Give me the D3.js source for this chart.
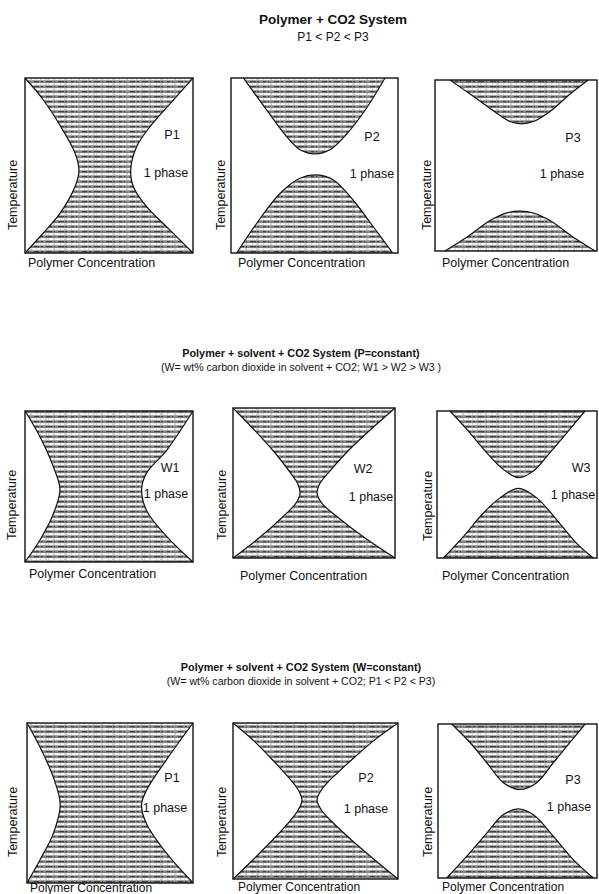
<!DOCTYPE html>
<html>
<head>
<meta charset="utf-8">
<script src="https://cdn.jsdelivr.net/npm/d3@7"></script>
<style>
  html, body { margin: 0; padding: 0; background: #fff; }
  svg { display: block; }
  text { font-family: "Liberation Sans", Arial, sans-serif; fill: #111; }
</style>
</head>
<body>
<svg id="chart" width="599" height="894"></svg>
<script>
// ---- Titles ----
const rowTitles = [
  "Polymer + CO2 System",
  "Polymer + solvent + CO2 System (P=constant)",
  "Polymer + solvent + CO2 System (W=constant)"
];
const rowSubtitles = [
  "P1 < P2 < P3",
  "(W= wt% carbon dioxide in solvent + CO2; W1 > W2 > W3 )",
  "(W= wt% carbon dioxide in solvent + CO2; P1 < P2 < P3)"
];
const panelLabels = ["P1", "P2", "P3", "W1", "W2", "W3", "P1", "P2", "P3"];
const phaseLabel = "1 phase";
const xAxisLabel = "Polymer Concentration";
const yAxisLabel = "Temperature";

// ---- Phase boundaries: [concentration, temperature], both 0..1 ----
// Row 1, P1: two-phase hourglass
const r1p1Left  = [[0,1],[0.105,0.88],[0.208,0.73],[0.298,0.57],[0.321,0.47],[0.298,0.38],[0.208,0.226],[0.105,0.11],[0,0]];
const r1p1Right = [[1,1],[0.883,0.874],[0.744,0.722],[0.665,0.608],[0.629,0.474],[0.645,0.379],[0.724,0.265],[0.863,0.131],[1,0]];
// Row 1, P2: upper (LCST) and lower (UCST) two-phase regions
const r1p2Upper = [[0.074,1],[0.214,0.817],[0.333,0.665],[0.413,0.59],[0.503,0.566],[0.593,0.59],[0.693,0.68],[0.813,0.83],[0.922,1]];
const r1p2Lower = [[0.034,0],[0.154,0.17],[0.293,0.34],[0.413,0.427],[0.513,0.446],[0.613,0.417],[0.733,0.30],[0.852,0.15],[0.968,0]];
// Row 1, P3
const r1p3Upper = [[0.093,1],[0.236,0.905],[0.38,0.807],[0.463,0.757],[0.535,0.743],[0.607,0.757],[0.71,0.816],[0.833,0.917],[0.946,1]];
const r1p3Lower = [[0.062,0],[0.196,0.08],[0.34,0.178],[0.443,0.223],[0.525,0.233],[0.607,0.222],[0.71,0.178],[0.854,0.08],[0.988,0]];
// Row 2, W1
const r2w1Left  = [[0,1],[0.089,0.83],[0.169,0.63],[0.208,0.48],[0.169,0.32],[0.089,0.146],[0,0]];
const r2w1Right = [[1,1],[0.843,0.74],[0.724,0.59],[0.694,0.48],[0.724,0.34],[0.843,0.17],[1,0]];
// Row 2, W2
const r2w2Left  = [[0,1],[0.15,0.833],[0.26,0.7],[0.355,0.567],[0.398,0.5],[0.414,0.433],[0.39,0.367],[0.30,0.267],[0.16,0.133],[0,0]];
const r2w2Right = [[1,1],[0.826,0.833],[0.698,0.7],[0.588,0.567],[0.538,0.5],[0.519,0.433],[0.547,0.367],[0.652,0.267],[0.815,0.133],[1,0]];
// Row 2, W3
const r2w3Upper = [[0.081,1],[0.185,0.877],[0.31,0.717],[0.415,0.603],[0.508,0.546],[0.602,0.591],[0.706,0.717],[0.831,0.877],[0.925,1]];
const r2w3Lower = [[0.04,0],[0.165,0.146],[0.29,0.306],[0.394,0.409],[0.508,0.473],[0.623,0.409],[0.748,0.26],[0.873,0.1],[0.977,0]];
// Row 3, P1
const r3p1Left  = [[0,1],[0.078,0.85],[0.159,0.66],[0.2,0.49],[0.159,0.31],[0.078,0.144],[0,0]];
const r3p1Right = [[1,1],[0.84,0.77],[0.72,0.58],[0.69,0.49],[0.72,0.37],[0.84,0.186],[1,0]];
// Row 3, P2
const r3p2Left  = [[0,1],[0.12,0.892],[0.24,0.763],[0.35,0.635],[0.395,0.571],[0.418,0.506],[0.395,0.442],[0.35,0.378],[0.24,0.25],[0.12,0.122],[0,0]];
const r3p2Right = [[1,1],[0.859,0.892],[0.718,0.763],[0.589,0.635],[0.536,0.571],[0.509,0.506],[0.536,0.442],[0.589,0.378],[0.718,0.25],[0.859,0.122],[1,0]];
// Row 3, P3
const r3p3Upper = [[0.086,1],[0.201,0.88],[0.306,0.75],[0.411,0.619],[0.516,0.575],[0.621,0.619],[0.726,0.75],[0.83,0.88],[0.925,1]];
const r3p3Lower = [[0.055,0],[0.18,0.14],[0.306,0.29],[0.41,0.41],[0.505,0.449],[0.6,0.41],[0.726,0.27],[0.852,0.118],[0.977,0]];

// ---- Layout ----
const titleLayout = [
  { x: 333, y: 23.5, sy: 41, ts: 13.5, ss: 12 },
  { x: 301, y: 357, sy: 370.5, ts: 10.8, ss: 10.6 },
  { x: 301, y: 671, sy: 684.5, ts: 10.8, ss: 10.6 }
];
// box: [x0, y0, x1, y1]; lab / ph: label centres; ty: Temperature centre; xl: x-label start
const panels = [
  { box: [25, 78, 193, 253],  kind: "hourglass", a: r1p1Left, b: r1p1Right, lab: [172, 135], ph: [166, 173], ty: [13, 195],  xl: [28, 263] },
  { box: [231, 78, 398, 253], kind: "split", a: r1p2Upper, b: r1p2Lower,      lab: [372, 137], ph: [372, 174], ty: [221, 195], xl: [238, 263] },
  { box: [435, 80, 597, 251], kind: "split", a: r1p3Upper, b: r1p3Lower,      lab: [573, 138], ph: [562, 174], ty: [427, 195], xl: [442, 263] },
  { box: [25, 411, 193, 562], kind: "hourglass", a: r2w1Left, b: r2w1Right,  lab: [170, 468], ph: [166, 494], ty: [12, 505],  xl: [29, 574] },
  { box: [233, 408, 395, 558], kind: "hourglass", a: r2w2Left, b: r2w2Right, lab: [363, 469], ph: [371, 497], ty: [222, 505], xl: [240, 576] },
  { box: [437, 411, 597, 558], kind: "split", a: r2w3Upper, b: r2w3Lower,     lab: [581, 468], ph: [573, 495], ty: [428, 506], xl: [442, 576] },
  { box: [27, 723, 193, 883], kind: "hourglass", a: r3p1Left, b: r3p1Right,  lab: [172, 778], ph: [165, 808], ty: [13, 822],  xl: [30, 888] },
  { box: [233, 723, 398, 879], kind: "hourglass", a: r3p2Left, b: r3p2Right, lab: [366, 778], ph: [366, 809], ty: [222, 822], xl: [238, 887] },
  { box: [438, 724, 597, 878], kind: "split", a: r3p3Upper, b: r3p3Lower,     lab: [573, 780], ph: [569, 807], ty: [428, 822], xl: [442, 887] }
];

const svg = d3.select("#chart");

// Horizontal hatching for the two-phase regions
const defs = svg.append("defs");
const pat = defs.append("pattern")
  .attr("id", "hatch")
  .attr("patternUnits", "userSpaceOnUse")
  .attr("width", 48).attr("height", 5);
pat.append("rect").attr("x", 0).attr("y", 0).attr("width", 48).attr("height", 5).attr("fill", "#fbfbfb");
pat.append("rect").attr("x", 0).attr("y", 0.3).attr("width", 48).attr("height", 2.8).attr("fill", "#858585");
pat.append("line").attr("x1", 0).attr("x2", 48).attr("y1", 1.7).attr("y2", 1.7)
  .attr("stroke", "#333").attr("stroke-width", 1)
  .attr("stroke-dasharray", "4 2 1 3 6 1 2 4 3 2 1 5 5 2 2 3");
pat.append("line").attr("x1", 0).attr("x2", 48).attr("y1", 4.1).attr("y2", 4.1)
  .attr("stroke", "#9a9a9a").attr("stroke-width", 0.7)
  .attr("stroke-dasharray", "1 4 2 5 1 3 3 4 1 6 2 4 1 3");

// Titles
titleLayout.forEach((t, i) => {
  svg.append("text").attr("x", t.x).attr("y", t.y).attr("text-anchor", "middle")
    .attr("font-weight", "bold").attr("font-size", t.ts).text(rowTitles[i]);
  svg.append("text").attr("x", t.x).attr("y", t.sy).attr("text-anchor", "middle")
    .attr("font-size", t.ss).text(rowSubtitles[i]);
});

panels.forEach((p, i) => {
  const [x0, y0, x1, y1] = p.box;
  const xs = d3.scaleLinear().domain([0, 1]).range([x0, x1]);
  const ys = d3.scaleLinear().domain([0, 1]).range([y1, y0]);
  const line = d3.line().x(d => xs(d[0])).y(d => ys(d[1])).curve(d3.curveCatmullRom.alpha(0.5));
  const g = svg.append("g");

  if (p.kind === "hourglass") {
    const rightUp = p.b.slice().reverse();
    const fillPath = line(p.a) + line(rightUp).replace(/^M/, "L") + "Z";
    g.append("path").attr("d", fillPath).attr("fill", "url(#hatch)");
  } else {
    g.append("path").attr("d", line(p.a) + "Z").attr("fill", "url(#hatch)");
    g.append("path").attr("d", line(p.b) + "Z").attr("fill", "url(#hatch)");
  }
  [p.a, p.b].forEach(curve => {
    g.append("path").attr("d", line(curve)).attr("fill", "none")
      .attr("stroke", "#111").attr("stroke-width", 1.2);
  });

  // frame
  g.append("rect").attr("x", x0).attr("y", y0).attr("width", x1 - x0).attr("height", y1 - y0)
    .attr("fill", "none").attr("stroke", "#111").attr("stroke-width", 1.4);

  g.append("text").attr("x", p.lab[0]).attr("y", p.lab[1]).attr("text-anchor", "middle")
    .attr("dominant-baseline", "central").attr("font-size", 12.5).text(panelLabels[i]);
  g.append("text").attr("x", p.ph[0]).attr("y", p.ph[1]).attr("text-anchor", "middle")
    .attr("dominant-baseline", "central").attr("font-size", 12.5).text(phaseLabel);

  g.append("text").attr("transform", `translate(${p.ty[0]},${p.ty[1]}) rotate(-90)`)
    .attr("text-anchor", "middle").attr("dominant-baseline", "central")
    .attr("font-size", 12.5).text(yAxisLabel);
  g.append("text").attr("x", p.xl[0]).attr("y", p.xl[1])
    .attr("dominant-baseline", "central").attr("font-size", i >= 6 ? 12 : 12.5).text(xAxisLabel);
});
</script>
</body>
</html>
